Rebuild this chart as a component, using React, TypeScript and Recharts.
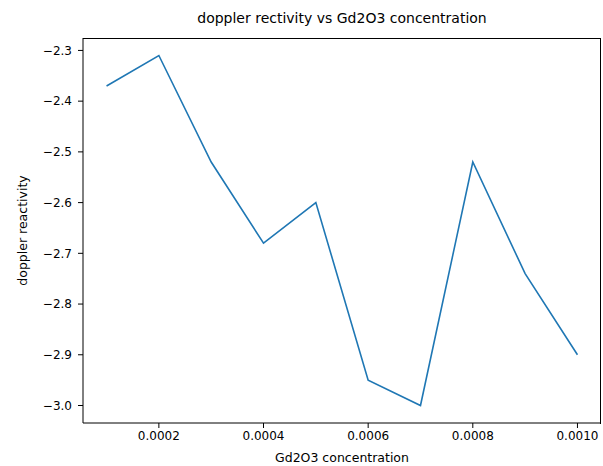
import { Label, Line, LineChart, XAxis, YAxis } from "recharts";

const concentration = [0.0001, 0.0002, 0.0003, 0.0004, 0.0005, 0.0006, 0.0007, 0.0008, 0.0009, 0.001];
const reactivity = [-2.37, -2.31, -2.52, -2.68, -2.6, -2.95, -3.0, -2.52, -2.74, -2.9];
const xTicks = [0.0002, 0.0004, 0.0006, 0.0008, 0.001];
const yTicks = [-3.0, -2.9, -2.8, -2.7, -2.6, -2.5, -2.4, -2.3];

const data = concentration.map((c, i) => ({ c, r: reactivity[i] }));

const FONT = "'DejaVu Sans', sans-serif";
const fmtY = (v: number) => v.toFixed(1).replace("-", "\u2212");

export default function App() {
  return (
    <div style={{ position: "fixed", left: 0, top: 0, width: 603, height: 466, background: "#fff", fontFamily: FONT }}>
      <div
        style={{
          position: "absolute",
          left: 83,
          width: 518,
          top: 10,
          textAlign: "center",
          fontSize: 14,
          color: "#000",
        }}
      >
        doppler rectivity vs Gd2O3 concentration
      </div>
      {/* top/right spines of the axes box */}
      <div
        style={{
          position: "absolute",
          left: 83,
          top: 38,
          width: 517,
          height: 385,
          borderTop: "1px solid #000",
          borderRight: "1px solid #000",
          pointerEvents: "none",
        }}
      />
      <LineChart
        width={603}
        height={466}
        data={data}
        margin={{ top: 38, right: 2, bottom: 0, left: 0 }}
        style={{ fontFamily: FONT }}
      >
        <XAxis
          dataKey="c"
          type="number"
          domain={[0.000055, 0.001045]}
          ticks={xTicks}
          tickFormatter={(v: number) => v.toFixed(4)}
          height={43}
          tickSize={5}
          tickMargin={3}
          stroke="#000"
          tick={{ fill: "#000", fontSize: 12 }}
          allowDataOverflow
        >
          <Label value="Gd2O3 concentration" position="insideBottom" offset={4} fill="#000" fontSize={12.5} />
        </XAxis>
        <YAxis
          dataKey="r"
          type="number"
          domain={[-3.0345, -2.2755]}
          ticks={yTicks}
          tickFormatter={fmtY}
          width={83}
          tickSize={5}
          tickMargin={6}
          stroke="#000"
          tick={{ fill: "#000", fontSize: 12 }}
          allowDataOverflow
        >
          <Label
            value="doppler reactivity"
            angle={-90}
            position="insideLeft"
            offset={23}
            fill="#000"
            fontSize={12.5}
            style={{ textAnchor: "middle" }}
          />
        </YAxis>
        <Line
          dataKey="r"
          stroke="#1f77b4"
          strokeWidth={1.6}
          dot={false}
          isAnimationActive={false}
        />
      </LineChart>
    </div>
  );
}
